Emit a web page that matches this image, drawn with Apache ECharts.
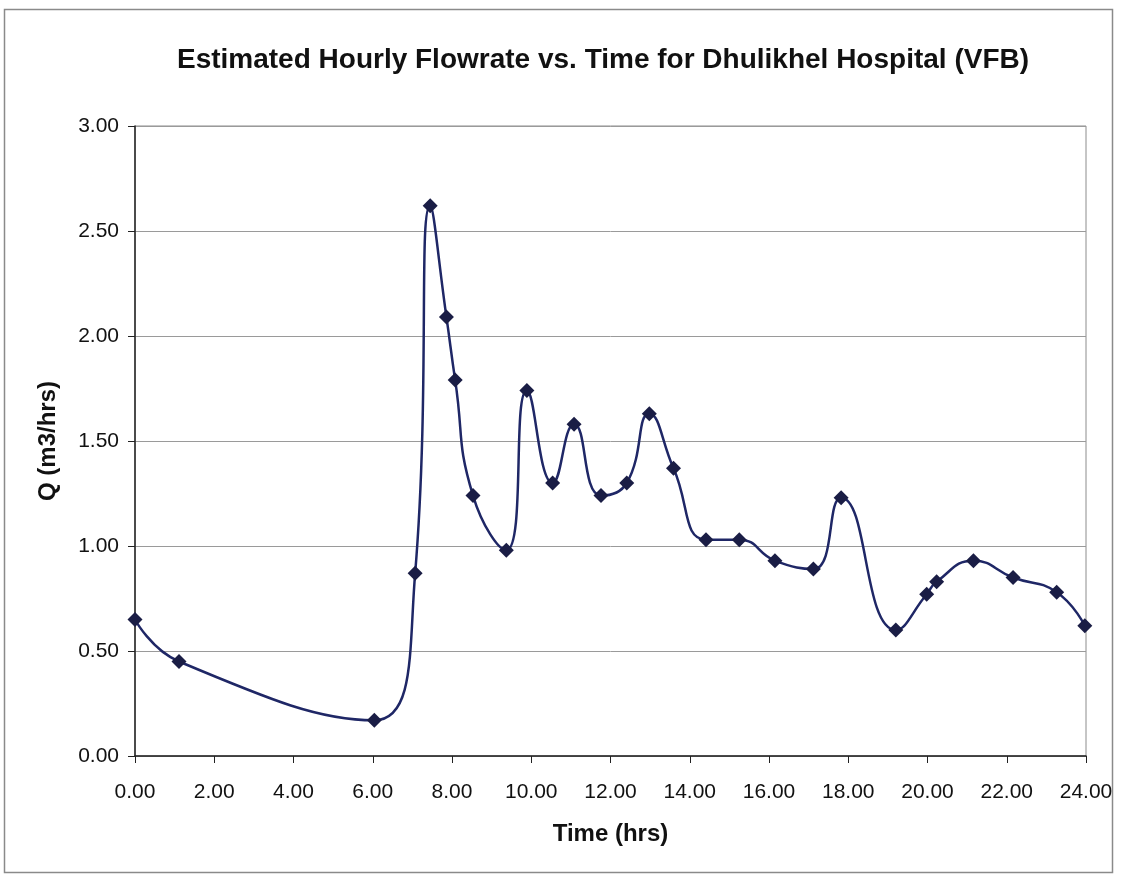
<!DOCTYPE html>
<html>
<head>
<meta charset="utf-8">
<script src="https://cdn.jsdelivr.net/npm/echarts@6/dist/echarts.min.js"></script>
<style>
  html, body { margin: 0; padding: 0; background: #fff; }
  #chart { width: 1125px; height: 876px; }
</style>
</head>
<body>
<div id="chart"></div>
<script>
// Sample times (hours) and estimated flowrate Q (m3/hrs)
const timeHrs = [0.00, 1.11, 6.04, 7.07, 7.45, 7.86, 8.08, 8.53, 9.37, 9.89,
                 10.54, 11.08, 11.76, 12.41, 12.98, 13.59, 14.41, 15.25, 16.15, 17.12,
                 17.82, 19.20, 19.98, 20.23, 21.16, 22.16, 23.26, 23.97];
const flowQ   = [0.65, 0.45, 0.17, 0.87, 2.62, 2.09, 1.79, 1.24, 0.98, 1.74,
                 1.30, 1.58, 1.24, 1.30, 1.63, 1.37, 1.03, 1.03, 0.93, 0.89,
                 1.23, 0.60, 0.77, 0.83, 0.93, 0.85, 0.78, 0.62];

const chartTitle = 'Estimated Hourly Flowrate vs. Time for Dhulikhel Hospital (VFB)';
const xTitle = 'Time (hrs)';
const yTitle = 'Q (m3/hrs)';

const points = timeHrs.map((t, i) => [t, flowQ[i]]);

const font = 'Liberation Sans, Arial, sans-serif';
const chart = echarts.init(document.getElementById('chart'));

chart.setOption({
  backgroundColor: '#ffffff',
  animation: false,
  title: {
    text: chartTitle,
    left: 598,
    top: 41,
    textAlign: 'center',
    textStyle: { fontFamily: font, fontWeight: 'bold', fontSize: 28, color: '#111' }
  },
  graphic: [{
    type: 'rect',
    shape: { x: 4.5, y: 9.5, width: 1108, height: 863 },
    style: { fill: 'none', stroke: '#8a8a8a', lineWidth: 1.5 },
    silent: true
  }],
  grid: {
    left: 135, right: 39, top: 126, bottom: 120,
    show: true, borderColor: '#8c8c8c', borderWidth: 1
  },
  xAxis: {
    type: 'value',
    min: 0, max: 24, interval: 2,
    name: xTitle,
    nameLocation: 'middle',
    nameGap: 66,
    nameTextStyle: { fontFamily: font, fontWeight: 'bold', fontSize: 24, color: '#111' },
    axisLine: { show: true, onZero: false, lineStyle: { color: '#222', width: 1.5 } },
    axisTick: { show: true, inside: false, length: 7, lineStyle: { color: '#222' } },
    axisLabel: {
      fontFamily: font, fontSize: 21, color: '#111', margin: 26,
      formatter: v => v.toFixed(2)
    },
    splitLine: { show: false }
  },
  yAxis: {
    type: 'value',
    min: 0, max: 3, interval: 0.5,
    name: yTitle,
    nameLocation: 'middle',
    nameGap: 75,
    nameRotate: 90,
    nameTextStyle: { fontFamily: font, fontWeight: 'bold', fontSize: 24, color: '#111' },
    axisLine: { show: true, lineStyle: { color: '#222', width: 1.5 } },
    axisTick: { show: true, inside: false, length: 7, lineStyle: { color: '#222' } },
    axisLabel: {
      fontFamily: font, fontSize: 21, color: '#111', margin: 16,
      formatter: v => v.toFixed(2)
    },
    splitLine: { show: true, lineStyle: { color: '#9a9a9a', width: 1 } }
  },
  series: [{
    type: 'line',
    data: points,
    smooth: 0.5,
    symbol: 'diamond',
    symbolSize: 15,
    lineStyle: { color: '#1f2766', width: 2.5 },
    itemStyle: { color: '#1a1d45' }
  }]
});
</script>
</body>
</html>
